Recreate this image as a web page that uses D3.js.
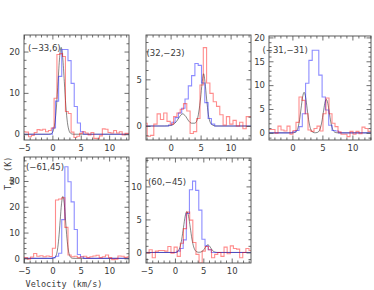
<!DOCTYPE html>
<html><head><meta charset="utf-8">
<script src="https://cdn.jsdelivr.net/npm/d3@7"></script>
<style>body{margin:0;background:#fff}svg{display:block}</style>
</head><body>
<svg id="c" width="374" height="290"></svg>
<script>
// ---------------- DATA ----------------
const panelLabels = ["(−33,6)", "(32,−23)", "(−31,−31)", "(−61,45)", "(60,−45)"];
const xDomains = [[-5, 13.5], [-4.1, 13.4], [-3.9, 13.1], [-5, 13.5], [-5.1, 13.4]];
const yDomains = [[-1.4, 24], [-1.5, 9.75], [-1.5, 20.3], [-1.8, 39.3], [-1.6, 14.3]];
const xMajorTicks = [-5, 0, 5, 10];
const yMajorTicks = [[0, 10, 20], [0, 5], [0, 5, 10, 15, 20], [0, 10, 20, 30], [0, 5, 10]];
const yMinorStep = [2, 1, 1, 2, 1];

// blue stepped spectra: first channel edge (km/s), channel width, Tmb values
const blueStart = [0.0, -0.35, 0.0, 0.0, 0.35];
const blueWidth = 0.55;
const p1Blue = [1.5, 8, 14, 20.5, 20.5, 17.8, 12.3, 6.7, 2.7, 0.6];
const p2Blue = [0.1, 0.4, 0.9, 1.4, 1.9, 2.9, 4.3, 5.4, 6.7, 6.5, 4.6, 2.5, 0.8, 0.2];
const p3Blue = [0.2, 0.5, 1.3, 4.0, 10.4, 15.2, 17.3, 17.3, 12.1, 7.5, 4.8, 1.6, 0.5, 0.4];
const p4Blue = [0.3, 0.8, 2.0, 15, 35.5, 29.7, 21.9, 11.2, 1.5, 0.5];
const p5Blue = [0.2, 0.6, 1.9, 5.9, 9.5, 10.8, 9.4, 6.4, 2.0, 1.0, 0.4];

// red stepped spectra
const redStart = [-5.2, -4.45, -4.4, -5.5, -5.1];
const redWidth = [0.5, 0.55, 0.5, 0.55, 0.55];
const p1Red = [0.6, 0.5, -0.6, -0.3, 0.4, 1.1, 1.0, 1.2, 0.6, 0.9, 1.5, 8.7, 19.3, 19.5, 18.8, 5.5, 5.0, 0.5, -0.8, -0.5,
  0.2, 0.6, 0.3, -0.2, 0.4, -1.0, -1.1, -0.4, 1.3, 1.2, 0.4, 0.3, 0.9, 0.3, 0.6, -0.2, 0.2, 0.2];
const p2Red = [0.3, -1.1, -1.0, 0.2, 1.3, 0.7, 1.4, 0.5, 0.2, 1.0, 1.4, 1.8, 2.4, 1.6, -0.8, -0.6, 0.8, 4.4, 8.4, 4.6,
  3.5, 2.6, 2.1, 1.2, 0.1, 1.0, 0.2, 0.6, 0.0, 0.4, -0.3, 1.0, 1.0];
const p3Red = [0.7, 0.7, 0.7, -0.1, 1.4, 0.6, 0.4, 1.4, -0.3, 0.5, 2.2, 7.5, 6.8, 4.0, 0.6, 0.3, 0.9, 1.4, 0.4, 4.0,
  7.3, 4.0, 2.0, 1.3, 0.2, -0.3, -0.3, -0.8, 0.3, -0.3, 0.3, -0.2, 1.2, 0.9, 0.3];
const p4Red = [0.4, 0.3, -0.3, 0.5, 1.9, 0.8, 1.0, 0.6, 0.9, 0.7, 3.9, 22.6, 23.0, 23.5, 12.0, 1.3, 0.6, 0.8, 0.3, 0.6,
  0.8, 0.3, 0.6, 0.9, 1.2, 0.3, 0.6, 1.3, 0.3, -0.5, -0.3, 0.9, 0.8, 0.4, 0.6];
const p5Red = [-0.1, 0.4, -0.8, 0.2, 0.3, 0.3, 0.2, 0.9, -0.1, 0.8, -0.6, 1.4, 3.6, 6.1, 4.9, 1.5, -0.3, -1.6, 0.2, 0.9,
  0.4, -0.8, -0.3, 0.0, -0.6, 0.8, -0.2, 1.0, 0.6, 0.5, -0.8, 0.0, 0.6, 0.3];

// black fitted profiles, [velocity, Tmb]
const p1Fit = [[-5, 0], [-0.7, 0], [-0.4, 0.04], [-0.1, 0.23], [0.175, 0.92], [0.45, 2.84], [0.725, 6.82], [1.0, 12.74],
  [1.275, 18.53], [1.55, 21], [1.825, 18.53], [2.1, 12.74], [2.375, 6.82], [2.65, 2.84], [2.925, 0.92], [3.2, 0.23],
  [3.5, 0.04], [3.8, 0], [13.5, 0]];
const p2Fit = [[-4.1, 0], [-1.0, 0], [0.0, 0.05], [0.5, 0.2], [1.0, 0.5], [1.5, 1.0], [2.0, 1.3], [2.5, 1.05], [3.0, 0.55],
  [3.5, 0.3], [4.0, 0.3], [4.4, 0.6], [4.7, 1.5], [5.0, 3.0], [5.25, 4.6], [5.5, 5.6], [5.75, 4.6], [6.0, 2.9], [6.3, 1.2],
  [6.6, 0.4], [7.0, 0.1], [7.5, 0], [13.4, 0]];
const p3Fit = [[-3.9, 0], [0.0, 0], [0.2, 0.02], [0.45, 0.09], [0.7, 0.37], [0.95, 1.15], [1.2, 2.76], [1.45, 5.16],
  [1.7, 7.5], [1.95, 8.5], [2.2, 7.5], [2.45, 5.16], [2.7, 2.76], [2.95, 1.15], [3.2, 0.37], [3.45, 0.09], [3.7, 0.02],
  [3.9, 0.02], [4.15, 0.08], [4.4, 0.31], [4.65, 0.95], [4.9, 2.27], [5.15, 4.25], [5.4, 6.18], [5.65, 7.0], [5.9, 6.18],
  [6.15, 4.25], [6.4, 2.27], [6.65, 0.95], [6.9, 0.31], [7.15, 0.08], [7.4, 0.02], [7.7, 0], [13.1, 0]];
const p4Fit = [[-5, 0], [0.0, 0], [0.17, 0.05], [0.41, 0.27], [0.65, 1.05], [0.89, 3.25], [1.13, 7.79], [1.37, 14.56],
  [1.61, 21.18], [1.85, 24], [2.09, 21.18], [2.33, 14.56], [2.57, 7.79], [2.81, 3.25], [3.05, 1.05], [3.29, 0.27],
  [3.53, 0.05], [3.8, 0], [13.5, 0]];
const p5Fit = [[-5.1, 0], [0.0, 0], [0.3, 0.07], [0.6, 0.27], [0.9, 0.84], [1.2, 2.01], [1.5, 3.76], [1.8, 5.47], [2.1, 6.2],
  [2.4, 5.47], [2.7, 3.76], [3.0, 2.01], [3.3, 0.84], [3.6, 0.27], [3.9, 0.07], [4.2, 0.02], [4.55, 0.06], [4.8, 0.16],
  [5.05, 0.37], [5.3, 0.7], [5.55, 1.01], [5.8, 1.15], [6.05, 1.01], [6.3, 0.7], [6.55, 0.37], [6.8, 0.16], [7.05, 0.05],
  [7.4, 0], [13.4, 0]];

const blueSeries = [p1Blue, p2Blue, p3Blue, p4Blue, p5Blue];
const redSeries = [p1Red, p2Red, p3Red, p4Red, p5Red];
const fitSeries = [p1Fit, p2Fit, p3Fit, p4Fit, p5Fit];

// ---------------- LAYOUT ----------------
const layout = [
  {left: 24, top: 35, w: 105, h: 105, lx: 4, ly: 16},
  {left: 146, top: 35, w: 105, h: 105, lx: 0.5, ly: 21},
  {left: 269, top: 36, w: 102, h: 104, lx: -6.5, ly: 17},
  {left: 24, top: 157, w: 105, h: 106, lx: 2, ly: 12.5},
  {left: 146, top: 158, w: 105, h: 105, lx: 2, ly: 26.5}
];
const FONT = "DejaVu Sans, sans-serif";
const TXT = "#3a3a3a";
const AX = "#4a4a4a";

const svg = d3.select("#c");
const defs = svg.append("defs");

layout.forEach((L, i) => {
  const xd = xDomains[i], yd = yDomains[i];
  const x = d3.scaleLinear().domain(xd).range([L.left, L.left + L.w]);
  const y = d3.scaleLinear().domain(yd).range([L.top + L.h, L.top]);
  const line = d3.line().x(d => x(d[0])).y(d => y(d[1]));

  defs.append("clipPath").attr("id", "cp" + i).append("rect")
    .attr("x", L.left).attr("y", L.top).attr("width", L.w).attr("height", L.h);
  const plot = svg.append("g").attr("clip-path", `url(#cp${i})`);

  // black fit
  plot.append("path").datum(fitSeries[i])
    .attr("d", line.curve(d3.curveMonotoneX))
    .attr("fill", "none").attr("stroke", "#000").attr("stroke-opacity", 0.6).attr("stroke-width", 0.8);

  // blue stepped
  const b = blueSeries[i], b0 = blueStart[i];
  const bpts = [[xd[0] - 1, 0]]
    .concat(b.map((t, j) => [b0 + j * blueWidth, t]))
    .concat([[b0 + b.length * blueWidth, 0], [xd[1] + 1, 0]]);
  plot.append("path").datum(bpts)
    .attr("d", line.curve(d3.curveStepAfter))
    .attr("fill", "none").attr("stroke", "#0000ff").attr("stroke-opacity", 0.45).attr("stroke-width", 1.1);

  // red stepped
  const r = redSeries[i], r0 = redStart[i], rw = redWidth[i];
  const rpts = r.map((t, j) => [r0 + j * rw, t]).concat([[r0 + r.length * rw, r[r.length - 1]]]);
  plot.append("path").datum(rpts)
    .attr("d", line.curve(d3.curveStepAfter))
    .attr("fill", "none").attr("stroke", "#ff0000").attr("stroke-opacity", 0.45).attr("stroke-width", 1.1);

  // axes
  const xMaj = xMajorTicks.filter(v => v >= xd[0] && v <= xd[1]);
  const xMin = d3.range(Math.ceil(xd[0]), Math.floor(xd[1]) + 1).filter(v => !xMaj.includes(v));
  const yMaj = yMajorTicks[i];
  const ys = yMinorStep[i];
  const yMin = d3.range(Math.ceil(yd[0] / ys) * ys, yd[1], ys).filter(v => !yMaj.includes(v));

  const addAxis = (axis, tx, ty, labels) => {
    const g = svg.append("g").attr("transform", `translate(${tx},${ty})`).call(axis);
    g.select(".domain").remove();
    g.selectAll(".tick line").attr("stroke", AX).attr("stroke-width", 0.8);
    if (labels) g.selectAll(".tick text").attr("fill", TXT).style("font-family", FONT).style("font-size", "8.5px");
    else g.selectAll(".tick text").remove();
    return g;
  };
  const fmt = d3.format("d");
  const bottomY = L.top + L.h, rightX = L.left + L.w;
  addAxis(d3.axisBottom(x).tickValues(xMaj).tickSize(-4.5).tickPadding(5).tickFormat(fmt), 0, bottomY, true);
  addAxis(d3.axisBottom(x).tickValues(xMin).tickSize(-2.5).tickFormat(""), 0, bottomY, false);
  addAxis(d3.axisTop(x).tickValues(xMaj).tickSize(-4.5).tickFormat(""), 0, L.top, false);
  addAxis(d3.axisTop(x).tickValues(xMin).tickSize(-2.5).tickFormat(""), 0, L.top, false);
  addAxis(d3.axisLeft(y).tickValues(yMaj).tickSize(-4.5).tickPadding(4).tickFormat(fmt), L.left, 0, true);
  addAxis(d3.axisLeft(y).tickValues(yMin).tickSize(-2.5).tickFormat(""), L.left, 0, false);
  addAxis(d3.axisRight(y).tickValues(yMaj).tickSize(-4.5).tickFormat(""), rightX, 0, false);
  addAxis(d3.axisRight(y).tickValues(yMin).tickSize(-2.5).tickFormat(""), rightX, 0, false);

  svg.append("rect").attr("x", L.left).attr("y", L.top).attr("width", L.w).attr("height", L.h)
    .attr("fill", "none").attr("stroke", AX).attr("stroke-width", 0.9);

  svg.append("text").attr("x", L.left + L.lx).attr("y", L.top + L.ly)
    .attr("fill", TXT).style("font-family", FONT).style("font-size", "8.5px")
    .text(panelLabels[i]);
});

// axis titles
const MONO = "DejaVu Sans Mono, monospace";
svg.append("text").attr("x", 64).attr("y", 287).attr("text-anchor", "middle")
  .attr("fill", TXT).style("font-family", MONO).style("font-size", "8.5px").text("Velocity (km/s)");
const yt = svg.append("text").attr("transform", "translate(10.5,190) rotate(-90)")
  .attr("fill", TXT).style("font-family", MONO).style("font-size", "8.5px");
yt.append("tspan").text("T");
yt.append("tspan").attr("dy", 3.5).style("font-size", "6.5px").text("mb");
yt.append("tspan").attr("dy", -3.5).text(" (K)");
</script>
</body></html>
